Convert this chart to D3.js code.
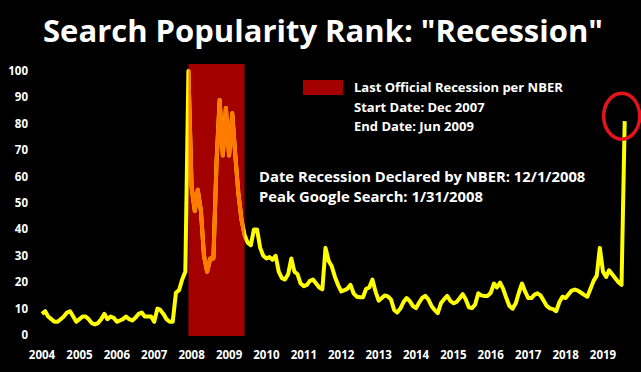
<!DOCTYPE html>
<html>
<head>
<meta charset="utf-8">
<script src="https://cdn.jsdelivr.net/npm/d3@7"></script>
<style>
  body { margin: 0; background: #000; }
  svg { display: block; }
  text { font-family: "Open Sans", Lato, sans-serif; font-weight: bold; fill: #fff; }
</style>
</head>
<body>
<svg width="641" height="372"></svg>
<script>
// monthly search index for "recession", Jan 2004 onward
const searchValues = [
  8, 9, 7, 6, 5, 5, 6, 7, 8.5, 9, 7, 5,
  6, 7, 7, 6, 4.5, 4, 4.5, 6, 8, 6, 7, 6.5,
  5, 5.5, 6, 7, 6, 5.5, 6.5, 8, 8.5, 7, 7, 7,
  5, 10, 9.5, 8, 6, 5, 5, 16, 17, 21, 24, 100,
  56, 47, 55, 47, 30, 24, 29, 29, 66, 89, 68, 86,
  68, 84, 69, 54, 44, 38, 35, 34, 40, 40, 33, 30,
  29, 29.5, 28.5, 30, 24, 21.5, 21, 23, 29, 24, 23, 19.5,
  18.5, 19, 20.5, 21, 19.5, 18, 17.3, 33, 28, 26, 22, 19,
  16.5, 17, 17.5, 19, 15.8, 14.5, 14.3, 14.3, 17.5, 18, 21, 16.5,
  13, 14, 15, 14.6, 13.5, 9.5, 8.5, 10, 12.5, 14, 12.8, 11,
  10.2, 12.3, 14, 14.8, 13.5, 11, 9.5, 8.3, 12, 13.5, 14.8, 13,
  12, 12.5, 13.8, 15.5, 13.5, 10.5, 10.2, 11.5, 15.8, 15, 14.8, 14.8,
  16, 19.5, 18, 19.8, 17.5, 14, 11, 10, 12, 16, 19.5, 16.5,
  14, 14, 15.2, 15.8, 15, 13, 11, 10.1, 9.8, 9, 12.5, 14.5,
  14, 15.5, 16.8, 17.2, 16.8, 16, 15.2, 14.5, 17.5, 20.5, 22.5, 33,
  24, 22, 24.5, 23, 21.5, 20, 19, 81
];
const yearLabels = ['2004', '2005', '2006', '2007', '2008', '2009', '2010', '2011',
  '2012', '2013', '2014', '2015', '2016', '2017', '2018', '2019'];
const yTicks = [0, 10, 20, 30, 40, 50, 60, 70, 80, 90, 100];
const recession = [new Date(2007, 11, 1), new Date(2009, 5, 1)];
const legendLines = ['Last Official Recession per NBER', 'Start Date: Dec 2007', 'End Date: Jun 2009'];
const noteLines = ['Date Recession Declared by NBER: 12/1/2008', 'Peak Google Search: 1/31/2008'];

const start = new Date(2004, 0, 1);
const data = searchValues.map((v, i) => ({ date: d3.timeMonth.offset(start, i), value: v }));

const svg = d3.select('svg');

const x = d3.scaleTime()
  .domain([new Date(2004, 0, 1), new Date(2019, 0, 1)])
  .range([42, 603]);
const y = d3.scaleLinear().domain([0, 100]).range([335, 71]);

const bandColor = '#a30000';

// title
svg.append('text')
  .attr('x', 323)
  .attr('y', 42)
  .attr('text-anchor', 'middle')
  .style('font-size', '31px')
  .text('Search Popularity Rank: "Recession"');

// recession band
svg.append('rect')
  .attr('x', x(recession[0]))
  .attr('y', 64)
  .attr('width', x(recession[1]) - x(recession[0]))
  .attr('height', 336 - 64)
  .attr('fill', bandColor);

svg.append('clipPath')
  .attr('id', 'bandClip')
  .append('rect')
  .attr('x', x(recession[0]))
  .attr('y', 0)
  .attr('width', x(recession[1]) - x(recession[0]))
  .attr('height', 372);

// y labels
svg.append('g')
  .selectAll('text')
  .data(yTicks)
  .enter()
  .append('text')
  .attr('x', 28)
  .attr('y', (d) => y(d) + 4)
  .attr('text-anchor', 'end')
  .style('font-size', '11.5px')
  .text((d) => d);

// x labels
svg.append('g')
  .selectAll('text')
  .data(yearLabels)
  .enter()
  .append('text')
  .attr('x', (d) => x(new Date(+d, 0, 1)))
  .attr('y', 359)
  .attr('text-anchor', 'middle')
  .style('font-size', '11.5px')
  .text((d) => d);

const line = d3.line()
  .x((d) => x(d.date))
  .y((d) => y(d.value));

svg.append('path')
  .datum(data)
  .attr('d', line)
  .attr('fill', 'none')
  .attr('stroke', '#ffff00')
  .attr('stroke-width', 4)
  .attr('stroke-linejoin', 'round');

svg.append('path')
  .datum(data)
  .attr('d', line)
  .attr('clip-path', 'url(#bandClip)')
  .attr('fill', 'none')
  .attr('stroke', '#ff7a00')
  .attr('stroke-width', 4)
  .attr('stroke-linejoin', 'round');

// legend
svg.append('rect')
  .attr('x', 303)
  .attr('y', 80)
  .attr('width', 40)
  .attr('height', 15)
  .attr('fill', bandColor);

svg.append('g')
  .selectAll('text')
  .data(legendLines)
  .enter()
  .append('text')
  .attr('x', 354)
  .attr('y', (d, i) => 92 + i * 19.5)
  .style('font-size', '13px')
  .text((d) => d);

svg.append('g')
  .selectAll('text')
  .data(noteLines)
  .enter()
  .append('text')
  .attr('x', 259)
  .attr('y', (d, i) => 182 + i * 20)
  .style('font-size', '14.8px')
  .text((d) => d);

// circle round the latest spike
const last = data[data.length - 1];
svg.append('ellipse')
  .attr('cx', x(last.date) - 3)
  .attr('cy', y(last.value) - 5)
  .attr('rx', 18)
  .attr('ry', 23)
  .attr('fill', 'none')
  .attr('stroke', '#e3141b')
  .attr('stroke-width', 3.5);
</script>
</body>
</html>
